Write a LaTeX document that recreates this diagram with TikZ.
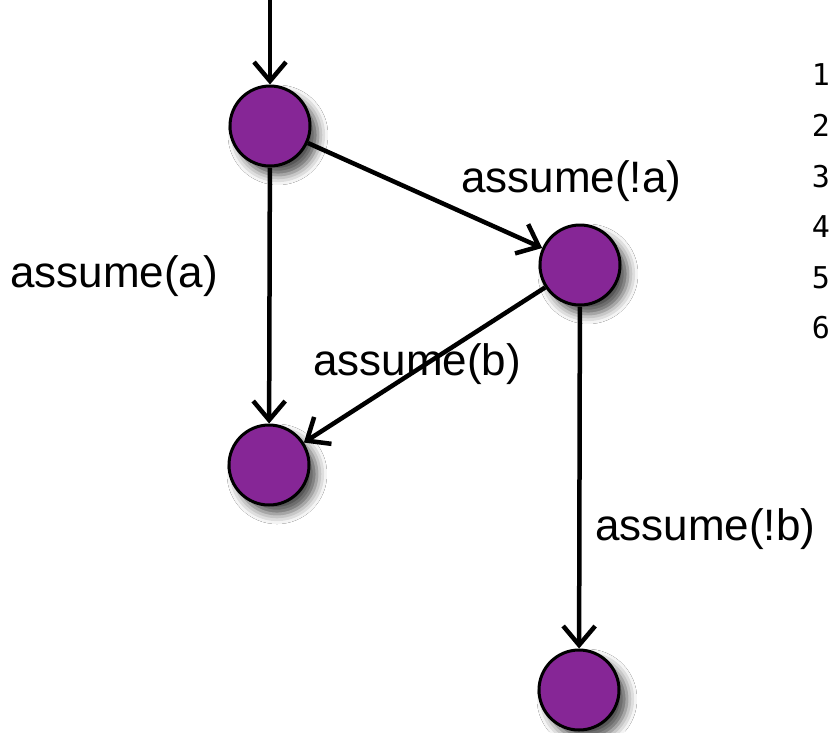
\documentclass[tikz,border=0pt]{standalone}
\usepackage{fontspec}
\setmainfont{Liberation Sans}
\newfontfamily\monofam{DejaVu Sans Mono}
\usetikzlibrary{arrows.meta,shadows.blur}
\pgfdeclarelayer{background}
\pgfsetlayers{background,main}
\definecolor{nodepurple}{RGB}{134,38,150}
\tikzset{
  state/.style={circle, draw=black, line width=3pt, fill=nodepurple,
    minimum size=80pt, inner sep=0pt,
    blur shadow={shadow xshift=8pt, shadow yshift=-9pt, shadow blur radius=10pt, shadow opacity=70}},
  edge/.style={line width=4.5pt, -{Straight Barb[length=19pt,width=32pt,line width=4.5pt]}},
  softline/.style={draw=black, line width=#1, opacity=0.05,
    transform canvas={shift={(8pt,-8pt)}}},
  lbl/.style={anchor=base west, inner sep=0pt, font=\fontsize{44}{52}\selectfont},
  num/.style={anchor=base, inner sep=0pt, font=\monofam\fontsize{30}{36}\selectfont}
}
\begin{document}
\begin{tikzpicture}[x=1pt,y=-1pt]
\useasboundingbox (0,0) rectangle (836,732);
\fill[white] (0,0) rectangle (836,732);
\node[state] (n1) at (270,126) {};
\node[state] (n2) at (580,265) {};
\node[state] (n3) at (269,465) {};
\node[state] (n4) at (579,690) {};
\coordinate (top) at (270,0);
\begin{pgfonlayer}{background}
  \foreach \w in {32pt,24pt,16pt,9pt}{
    \draw[softline=\w] (top) -- (n1.north);
    \draw[softline=\w] (n1) -- (n3);
    \draw[softline=\w] (n1) -- (n2);
    \draw[softline=\w] (n2) -- (n3);
    \draw[softline=\w] (n2) -- (n4);
  }
\end{pgfonlayer}
\draw[edge] (top) -- (n1);
\draw[edge] (n1) -- (n3);
\draw[edge] (n1) -- (n2);
\draw[edge] (n2) -- (n3);
\draw[edge] (n2) -- (n4);
\node[lbl] (la) at (10,287) {assume(a)};
\node[lbl] (lna) at (461,192) {assume(!a)};
\node[lbl] (lb) at (313,375) {assume(b)};
\node[lbl] (lnb) at (595,540) {assume(!b)};
\node[num] (d1) at (821,85) {1};
\node[num] (d2) at (821,136) {2};
\node[num] (d3) at (821,187) {3};
\node[num] (d4) at (821,237) {4};
\node[num] (d5) at (821,288) {5};
\node[num] (d6) at (821,338) {6};
\end{tikzpicture}
\end{document}
